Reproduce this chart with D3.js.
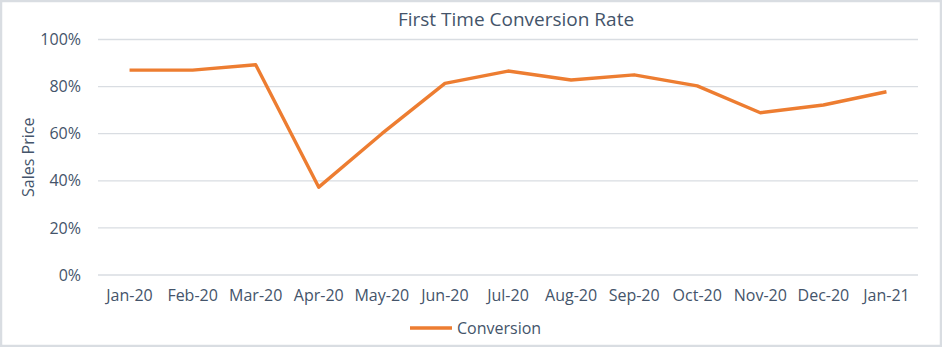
<!DOCTYPE html>
<html>
<head>
<meta charset="utf-8">
<script src="https://cdn.jsdelivr.net/npm/d3@7"></script>
<style>
  html, body { margin: 0; padding: 0; background: #fff; }
  svg { display: block; }
  text { font-family: "Open Sans", "Noto Sans", sans-serif; fill: #44546a; }
</style>
</head>
<body>
<svg id="chart" width="942" height="347"></svg>
<script>
// Monthly first-time conversion rate (%)
const months = ["Jan-20", "Feb-20", "Mar-20", "Apr-20", "May-20", "Jun-20", "Jul-20",
                "Aug-20", "Sep-20", "Oct-20", "Nov-20", "Dec-20", "Jan-21"];
const conversion = [87, 87, 89.3, 37.3, 60, 81.4, 86.6, 82.8, 85, 80.3, 68.9, 72.2, 77.8];
const yTicks = [0, 20, 40, 60, 80, 100];

const chartTitle = "First Time Conversion Rate";
const yTitle = "Sales Price";
const seriesName = "Conversion";

const W = 942, H = 347;
const margin = { top: 39.5, right: 24, bottom: 72, left: 98 };
const svg = d3.select("#chart");

// outer frame
svg.append("rect")
  .attr("x", 1).attr("y", 1).attr("width", W - 2).attr("height", H - 2)
  .attr("fill", "#fff").attr("stroke", "#d9dde2").attr("stroke-width", 2.5);

const x = d3.scaleBand().domain(months).range([margin.left, W - margin.right]);
const y = d3.scaleLinear().domain([0, 100]).range([H - margin.bottom, margin.top]);

// horizontal gridlines
svg.append("g").selectAll("line").data(yTicks).join("line")
  .attr("x1", margin.left).attr("x2", W - margin.right)
  .attr("y1", d => y(d)).attr("y2", d => y(d))
  .attr("stroke", "#d9dde2").attr("stroke-width", 1.3);

// y axis labels
const yAxis = d3.axisLeft(y).tickValues(yTicks).tickFormat(d => d + "%").tickSize(0).tickPadding(17);
const yg = svg.append("g").attr("transform", `translate(${margin.left},0)`).call(yAxis);
yg.select(".domain").remove();
yg.selectAll("text").style("font-size", "16px").attr("fill", "#44546a");

// x axis labels
const xAxis = d3.axisBottom(x).tickSize(0).tickPadding(15);
const xg = svg.append("g").attr("transform", `translate(0,${H - margin.bottom})`).call(xAxis);
xg.select(".domain").remove();
xg.selectAll("text").style("font-size", "16px").attr("fill", "#44546a");

// series line
const line = d3.line()
  .x((d, i) => x(months[i]) + x.bandwidth() / 2)
  .y(d => y(d));
svg.append("path")
  .datum(conversion)
  .attr("d", line)
  .attr("fill", "none")
  .attr("stroke", "#ed7d31")
  .attr("stroke-width", 3.4)
  .attr("stroke-linejoin", "round");

// title
svg.append("text")
  .attr("x", 516).attr("y", 26)
  .attr("text-anchor", "middle")
  .style("font-size", "19px")
  .text(chartTitle);

// y axis title
svg.append("text")
  .attr("transform", `translate(34,${(y(0) + y(100)) / 2}) rotate(-90)`)
  .attr("text-anchor", "middle")
  .style("font-size", "16px")
  .text(yTitle);

// legend
const lg = svg.append("g").attr("transform", "translate(410,328)");
lg.append("line").attr("x1", 0).attr("x2", 42).attr("y1", 0).attr("y2", 0)
  .attr("stroke", "#ed7d31").attr("stroke-width", 3.4);
lg.append("text").attr("x", 47).attr("y", 5.5)
  .style("font-size", "16px")
  .text(seriesName);
</script>
</body>
</html>
